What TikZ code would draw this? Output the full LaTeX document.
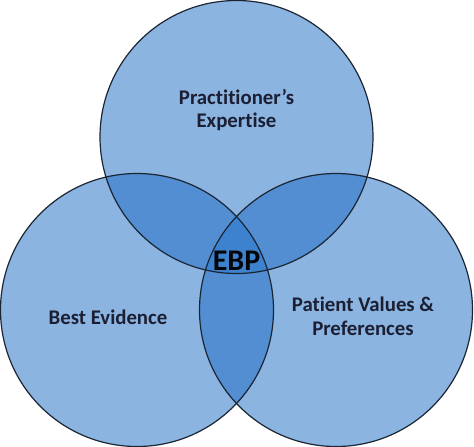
\documentclass[tikz,border=0pt]{standalone}
\usepackage{fontspec}
\setmainfont{Carlito}[Ligatures={NoCommon}]
\definecolor{baseblue}{HTML}{8BB4E1}
\definecolor{pairblue}{HTML}{538ED3}
\definecolor{tripblue}{HTML}{3D82CF}
\definecolor{rimcol}{HTML}{1B2533}
\definecolor{txtcol}{HTML}{1C1F33}
\begin{document}
\begin{tikzpicture}[x=1pt,y=-1pt,
  lbl/.style={font=\bfseries\fontsize{20.8}{23.5}\selectfont,text=txtcol,align=center},
  rim/.style={draw=rimcol,line width=1.2pt}]
\useasboundingbox (0,0) rectangle (474,447);
\def\R{136.5}
\coordinate (ct) at (236.5,137);
\coordinate (cl) at (137,310);
\coordinate (cr) at (336,310);
% base fills
\fill[baseblue] (ct) circle (\R);
\fill[baseblue] (cl) circle (\R);
\fill[baseblue] (cr) circle (\R);
% pairwise
\begin{scope}\clip (ct) circle (\R); \fill[pairblue] (cl) circle (\R); \fill[pairblue] (cr) circle (\R);\end{scope}
\begin{scope}\clip (cl) circle (\R); \fill[pairblue] (cr) circle (\R);\end{scope}
% triple
\begin{scope}\clip (ct) circle (\R); \clip (cl) circle (\R); \fill[tripblue] (cr) circle (\R);\end{scope}
% outlines
\draw[rim] (ct) circle (\R);
\draw[rim] (cl) circle (\R);
\draw[rim] (cr) circle (\R);
% labels
\node[lbl] (pe) at (236.5,110) {Practitioner’s\\Expertise};
\node[lbl] (be) at (108,317) {Best Evidence};
\node[lbl] (pv) at (363,316.5) {Patient Values \&\\Preferences};
\node[font=\bfseries\fontsize{30}{33}\selectfont,text=black!85!txtcol] (ebp) at (236.5,261) {EBP};
\end{tikzpicture}
\end{document}
